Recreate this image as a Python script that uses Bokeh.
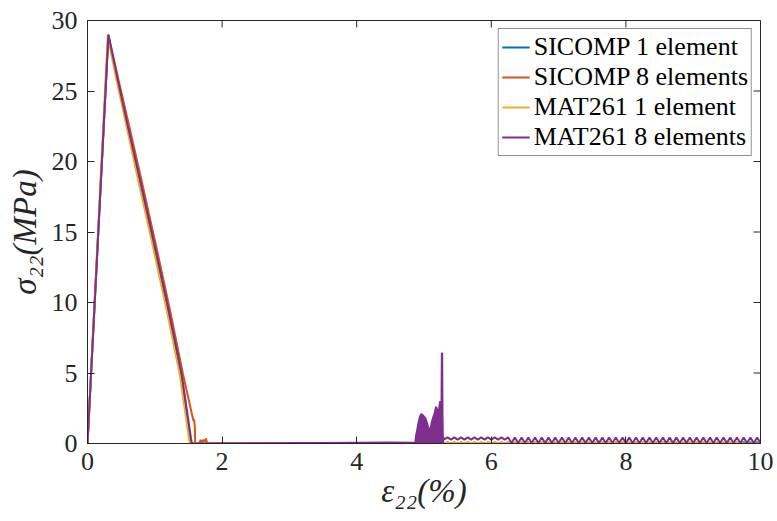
from bokeh.plotting import figure
from bokeh.models import FixedTicker, Range1d
from bokeh.embed import file_html
from bokeh.resources import INLINE

# ---------------- data (strain in %, stress in MPa) ----------------
x_ticks = [0, 2, 4, 6, 8, 10]
y_ticks = [0, 5, 10, 15, 20, 25, 30]
series_names = ["SICOMP 1 element", "SICOMP 8 elements", "MAT261 1 element", "MAT261 8 elements"]
series_colors = ["#0072BD", "#D95319", "#EDB120", "#7E2F8E"]

# shared oscillation strain grid for the long tail
tail_strain = [5.30, 5.35, 5.40, 5.45, 5.50, 5.55, 5.60, 5.65, 5.70, 5.75,
               5.80, 5.85, 5.90, 5.95, 6.00, 6.05, 6.10, 6.15, 6.20, 6.25,
               6.30, 6.35, 6.40, 6.45, 6.50, 6.55, 6.60, 6.65, 6.70, 6.75,
               6.80, 6.85, 6.90, 6.95, 7.00, 7.05, 7.10, 7.15, 7.20, 7.25,
               7.30, 7.35, 7.40, 7.45, 7.50, 7.55, 7.60, 7.65, 7.70, 7.75,
               7.80, 7.85, 7.90, 7.95, 8.00, 8.05, 8.10, 8.15, 8.20, 8.25,
               8.30, 8.35, 8.40, 8.45, 8.50, 8.55, 8.60, 8.65, 8.70, 8.75,
               8.80, 8.85, 8.90, 8.95, 9.00, 9.05, 9.10, 9.15, 9.20, 9.25,
               9.30, 9.35, 9.40, 9.45, 9.50, 9.55, 9.60, 9.65, 9.70, 9.75,
               9.80, 9.85, 9.90, 9.95, 10.00]

# SICOMP 1 element
sicomp1_strain = [0.0, 0.31, 0.44, 0.59, 0.78, 0.98, 1.18, 1.38, 1.52, 1.53,
                  9.70, 9.75, 9.80, 9.85, 9.90, 9.95, 10.00]
sicomp1_stress = [0.0, 28.9, 25.8, 22.5, 18.3, 14.0, 9.6, 4.9, 0.3, 0.0,
                  0.0, 0.10, 0.0, 0.10, 0.0, 0.10, 0.0]

# SICOMP 8 elements
sicomp8_strain = [0.0, 0.31, 0.46, 0.62, 0.82, 1.02, 1.22, 1.42, 1.575, 1.585,
                  1.595, 1.60, 1.66, 1.68, 1.70, 1.72, 1.74, 1.76, 1.78, 2.0, 10.0]
sicomp8_stress = [0.0, 29.0, 25.8, 22.5, 18.3, 14.0, 9.6, 4.9, 1.6, 1.7,
                  1.2, 0.0, 0.0, 0.25, 0.1, 0.25, 0.15, 0.35, 0.0, 0.0, 0.0]

# MAT261 1 element
mat1_strain_head = [0.0, 0.30, 0.43, 0.58, 0.77, 0.97, 1.17, 1.37, 1.51, 1.52,
                    4.90, 4.95, 5.00, 5.05, 5.10, 5.15, 5.20, 5.25]
mat1_stress_head = [0.0, 28.9, 25.8, 22.5, 18.3, 14.0, 9.6, 4.9, 0.3, 0.0,
                    0.0, 0.10, 0.0, 0.10, 0.0, 0.10, 0.0, 0.10]
mat1_stress_tail = [0.0, 0.12, 0.0, 0.12, 0.0, 0.12, 0.0, 0.12, 0.0, 0.12,
                    0.0, 0.12, 0.0, 0.12, 0.0, 0.12, 0.0, 0.12, 0.0, 0.12,
                    0.0, 0.12, 0.0, 0.12, 0.0, 0.12, 0.0, 0.12, 0.0, 0.12,
                    0.0, 0.12, 0.0, 0.12, 0.0, 0.12, 0.0, 0.12, 0.0, 0.12,
                    0.0, 0.12, 0.0, 0.12, 0.0, 0.12, 0.0, 0.12, 0.0, 0.12,
                    0.0, 0.12, 0.0, 0.12, 0.0, 0.12, 0.0, 0.12, 0.0, 0.12,
                    0.0, 0.12, 0.0, 0.12, 0.0, 0.12, 0.0, 0.12, 0.0, 0.12,
                    0.0, 0.12, 0.0, 0.12, 0.0, 0.12, 0.0, 0.12, 0.0, 0.12,
                    0.0, 0.12, 0.0, 0.12, 0.0, 0.12, 0.0, 0.12, 0.0, 0.0,
                    0.0, 0.0, 0.0, 0.0, 0.0]

# MAT261 8 elements: main curve up to the start of the burst
mat8_strain_head = [0.0, 0.31, 0.45, 0.60, 0.80, 1.00, 1.20, 1.40, 1.54, 1.55,
                    2.50, 3.50, 4.50, 4.86, 4.87]
mat8_stress_head = [0.0, 29.0, 25.8, 22.5, 18.3, 14.0, 9.6, 4.9, 0.3, 0.0,
                    0.02, 0.04, 0.07, 0.05, 0.0]
# envelope of the dense burst (filled down to zero by the rapid oscillation)
mat8_burst_strain = [4.87, 4.88, 4.90, 4.92, 4.94, 4.96, 4.98, 5.00, 5.02, 5.04,
                     5.06, 5.08, 5.10, 5.12, 5.14, 5.16, 5.18, 5.20, 5.22, 5.24,
                     5.25, 5.26, 5.265, 5.27, 5.275, 5.28, 5.29, 5.30]
mat8_burst_stress = [0.0, 0.5, 1.0, 1.5, 1.9, 2.1, 2.0, 1.9, 1.8, 1.5,
                     1.2, 0.95, 1.1, 1.6, 1.9, 2.2, 2.6, 2.3, 2.3, 3.0,
                     2.2, 2.4, 6.4, 6.4, 2.0, 0.5, 0.4, 0.3]
mat8_stress_tail = [0.30, 0.44, 0.28, 0.44, 0.28, 0.44, 0.28, 0.44, 0.28, 0.44,
                    0.28, 0.44, 0.28, 0.44, 0.28, 0.44, 0.28, 0.44, 0.28, 0.44,
                    0.04, 0.42, 0.04, 0.42, 0.04, 0.42, 0.04, 0.42, 0.04, 0.42,
                    0.04, 0.42, 0.04, 0.42, 0.04, 0.42, 0.04, 0.42, 0.04, 0.42,
                    0.04, 0.42, 0.04, 0.42, 0.04, 0.42, 0.04, 0.42, 0.04, 0.42,
                    0.04, 0.42, 0.04, 0.42, 0.04, 0.42, 0.04, 0.42, 0.04, 0.42,
                    0.04, 0.42, 0.04, 0.42, 0.04, 0.42, 0.04, 0.42, 0.04, 0.42,
                    0.04, 0.42, 0.04, 0.42, 0.04, 0.42, 0.04, 0.42, 0.04, 0.42,
                    0.04, 0.42, 0.04, 0.42, 0.04, 0.42, 0.04, 0.42, 0.04, 0.42,
                    0.04, 0.42, 0.04, 0.42, 0.04]

mat1_strain = mat1_strain_head + tail_strain
mat1_stress = mat1_stress_head + mat1_stress_tail
mat8_strain = mat8_strain_head + mat8_burst_strain + tail_strain
mat8_stress = mat8_stress_head + mat8_burst_stress + mat8_stress_tail

# ---------------- figure ----------------
FONT = "Liberation Serif"
AX = "#262626"
X0, X1, Y0, Y1 = 0, 10, 0, 30
W, H = 777, 521
ML, MR, MT, MB = 87, 17, 20, 78
TICK = 7

p = figure(width=W, height=H, x_range=Range1d(X0, X1), y_range=Range1d(Y0, Y1),
           output_backend="svg", toolbar_location=None,
           min_border_left=ML, min_border_right=MR, min_border_top=MT, min_border_bottom=MB)
p.grid.visible = False
p.outline_line_color = AX
p.outline_line_width = 1

p.xaxis.ticker = FixedTicker(ticks=x_ticks)
p.yaxis.ticker = FixedTicker(ticks=y_ticks)
for axes in (p.xaxis, p.yaxis):
    axes.major_tick_in = TICK
    axes.major_tick_out = 0
    axes.minor_tick_line_color = None
    axes.axis_line_color = AX
    axes.major_tick_line_color = AX
    axes.major_label_text_font = FONT
    axes.major_label_text_color = AX
    axes.major_label_text_font_size = "26px"
    axes.axis_label_text_font = FONT
    axes.axis_label_text_font_style = "italic"
    axes.axis_label_text_font_size = "33px"
    axes.axis_label_text_color = AX
p.xaxis.major_label_standoff = 9
p.yaxis.major_label_standoff = 10
p.xaxis.axis_label = "ε₂₂(%)"
p.yaxis.axis_label = "σ₂₂(MPa)"
p.xaxis.axis_label_standoff = 0
p.yaxis.axis_label_standoff = 6

# mirrored ticks on the top and right edges of the box
fw = W - ML - MR
fh = H - MT - MB
dx = (X1 - X0) * TICK / fw
dy = (Y1 - Y0) * TICK / fh
p.segment(x0=x_ticks, y0=[Y1] * len(x_ticks), x1=x_ticks, y1=[Y1 - dy] * len(x_ticks),
          line_color=AX, line_width=1)
p.segment(x0=[X1] * len(y_ticks), y0=y_ticks, x1=[X1 - dx] * len(y_ticks), y1=y_ticks,
          line_color=AX, line_width=1)

data = [(sicomp1_strain, sicomp1_stress), (sicomp8_strain, sicomp8_stress),
        (mat1_strain, mat1_stress), (mat8_strain, mat8_stress)]
for i, ((xs, ys), c, name) in enumerate(zip(data, series_colors, series_names)):
    if i == 3:
        p.varea(x=mat8_burst_strain, y1=[0] * len(mat8_burst_strain), y2=mat8_burst_stress,
                fill_color=c)
    p.line(xs, ys, line_color=c, line_width=2, line_join="bevel", legend_label=name)

lg = p.legend[0]
lg.location = "top_right"
lg.label_text_font = FONT
lg.label_text_font_size = "26px"
lg.label_text_color = "black"
lg.glyph_width = 28
lg.glyph_height = 28
lg.label_height = 28
lg.spacing = 0
lg.padding = 3
lg.label_standoff = 4
lg.margin = 8
lg.border_line_color = AX
lg.border_line_width = 1
lg.background_fill_alpha = 1

open("out.html", "w").write(file_html(p, INLINE))
